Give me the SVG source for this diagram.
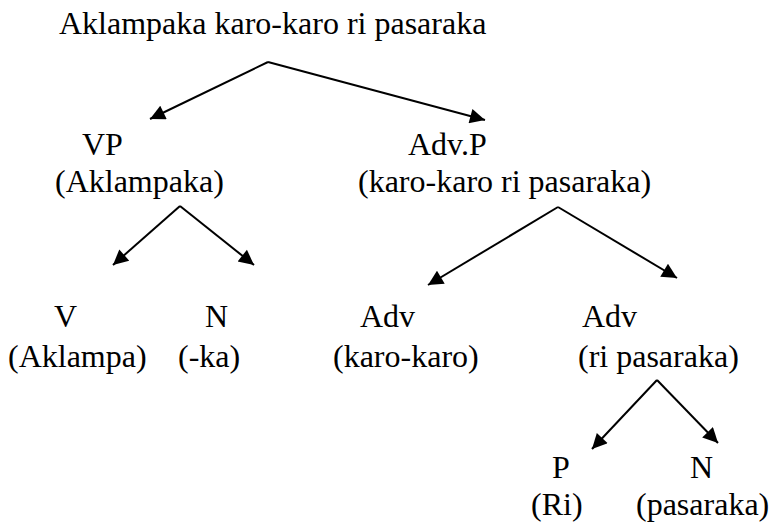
<svg xmlns="http://www.w3.org/2000/svg" width="772" height="529" viewBox="0 0 772 529">
<style>
text{font-family:'Liberation Serif','Times New Roman',serif;font-size:32px;fill:#000}
.c line{stroke:#000;stroke-width:2;marker-end:url(#ah)}
</style>
<defs>
<marker id="ah" viewBox="0 0 10 10" refX="10" refY="5" markerWidth="19" markerHeight="15" markerUnits="userSpaceOnUse" orient="auto">
<path d="M0,0 L10,5 L0,10 z" fill="#000"/>
</marker>
</defs>
<rect width="772" height="529" fill="#fff"/>
<g id="root"><text x="59" y="34">Aklampaka karo-karo ri pasaraka</text></g>
<g id="vp"><text x="82" y="155">VP</text><text x="55" y="192">(Aklampaka)</text></g>
<g id="advp"><text x="408" y="155">Adv.P</text><text x="358" y="192">(karo-karo ri pasaraka)</text></g>
<g id="v"><text x="54" y="327">V</text><text x="8" y="367">(Aklampa)</text></g>
<g id="n1"><text x="205" y="327">N</text><text x="178" y="367">(-ka)</text></g>
<g id="adv1"><text x="360" y="327">Adv</text><text x="333" y="367">(karo-karo)</text></g>
<g id="adv2"><text x="582" y="327">Adv</text><text x="578" y="367">(ri pasaraka)</text></g>
<g id="p"><text x="552" y="478">P</text><text x="531" y="515">(Ri)</text></g>
<g id="n2"><text x="690" y="478">N</text><text x="636" y="515">(pasaraka)</text></g>
<g class="c" id="connectors">
<line x1="268" y1="62" x2="150" y2="119"/>
<line x1="268" y1="62" x2="485" y2="120"/>
<line x1="180" y1="206" x2="113" y2="265"/>
<line x1="180" y1="206" x2="254" y2="265"/>
<line x1="558" y1="207" x2="428" y2="285"/>
<line x1="558" y1="207" x2="677" y2="278"/>
<line x1="657" y1="380" x2="592" y2="449"/>
<line x1="657" y1="380" x2="718" y2="443"/>
</g>
</svg>
